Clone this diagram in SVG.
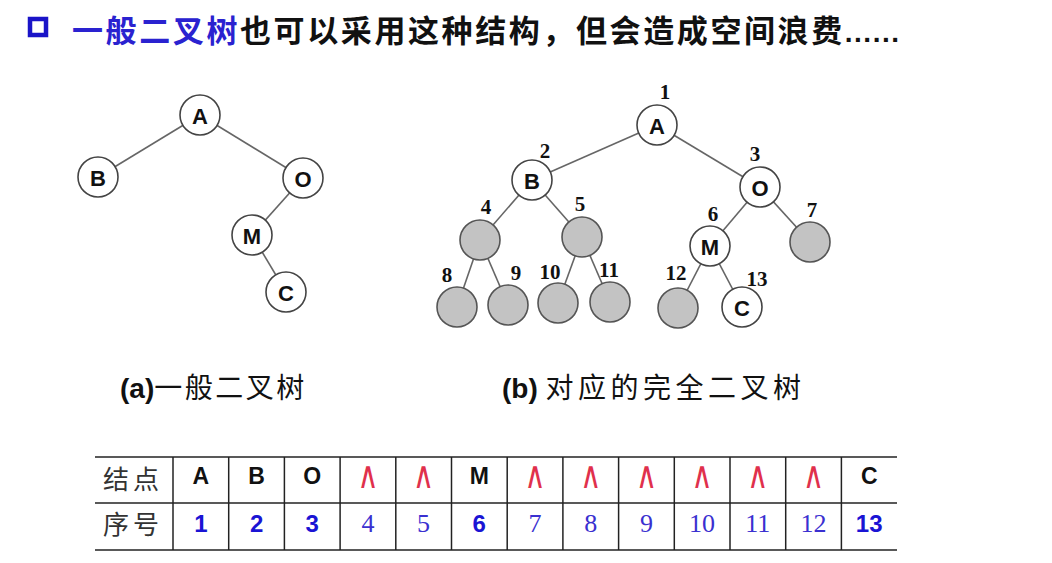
<svg xmlns="http://www.w3.org/2000/svg" width="1052" height="563" viewBox="0 0 1052 563">
<style>
.edge{stroke:#666;stroke-width:1.6;fill:none}
.nw{fill:#fff;stroke:#444;stroke-width:1.6}
.ng{fill:#c3c3c3;stroke:#555;stroke-width:1.6}
.lt{font-family:"Liberation Sans",Arial,sans-serif;font-weight:bold;font-size:22px;fill:#111;text-anchor:middle;dominant-baseline:central}
.num{font-family:"Liberation Serif","Times New Roman",serif;font-weight:bold;font-size:21px;fill:#111;text-anchor:middle;dominant-baseline:central}
.cap{font-family:"Liberation Sans","Noto Sans CJK SC",sans-serif;font-size:28px;fill:#111}
.cjk{font-family:"Noto Sans CJK SC",sans-serif}
.tl{stroke:#222;stroke-width:1.5}
.th{font-family:"Noto Sans CJK SC",sans-serif;font-size:26px;fill:#333;text-anchor:middle;dominant-baseline:central;letter-spacing:4px}
.tv{font-family:"Liberation Sans",Arial,sans-serif;font-weight:bold;font-size:23px;fill:#111;text-anchor:middle}
.tb{font-family:"Liberation Sans",Arial,sans-serif;font-weight:bold;font-size:24px;fill:#1a14d4;text-anchor:middle}
.ts{font-family:"Liberation Serif","Times New Roman",serif;font-size:26px;fill:#3a30d0;text-anchor:middle}
.nul{font-family:"DejaVu Sans",sans-serif;font-size:25px;fill:#e0304c;text-anchor:middle}
</style>

<!-- title -->
<g id="title">
<rect x="30" y="19" width="16" height="16" fill="none" stroke="#1a14c8" stroke-width="4.5"/>
<text x="72" y="42" font-family="Noto Sans CJK SC, sans-serif" font-size="31" font-weight="bold" letter-spacing="2.6"><tspan fill="#2a22d0">一般二叉树</tspan><tspan fill="#111">也可以采用这种结构，但会造成空间浪费</tspan><tspan fill="#111" font-family="Liberation Sans, sans-serif" font-size="28" letter-spacing="1.5">......</tspan></text>
</g>

<!-- connectors -->
<g id="connectors">
<line class="edge" x1="200" y1="115" x2="98" y2="177"/>
<line class="edge" x1="200" y1="115" x2="303" y2="178"/>
<line class="edge" x1="303" y1="178" x2="252" y2="235"/>
<line class="edge" x1="252" y1="235" x2="286" y2="292"/>

<line class="edge" x1="657" y1="125" x2="532" y2="180"/>
<line class="edge" x1="657" y1="125" x2="760" y2="187"/>
<line class="edge" x1="532" y1="180" x2="480" y2="240"/>
<line class="edge" x1="532" y1="180" x2="582" y2="237"/>
<line class="edge" x1="760" y1="187" x2="710" y2="246"/>
<line class="edge" x1="760" y1="187" x2="810" y2="242"/>
<line class="edge" x1="480" y1="240" x2="457" y2="307"/>
<line class="edge" x1="480" y1="240" x2="508" y2="305"/>
<line class="edge" x1="582" y1="237" x2="558" y2="303"/>
<line class="edge" x1="582" y1="237" x2="610" y2="302"/>
<line class="edge" x1="710" y1="246" x2="678" y2="308"/>
<line class="edge" x1="710" y1="246" x2="742" y2="307"/>
</g>

<!-- tree (a) -->
<g id="a-A"><circle class="nw" cx="200" cy="115" r="20"/><text class="lt" x="200" y="116">A</text></g>
<g id="a-B"><circle class="nw" cx="98" cy="177" r="20"/><text class="lt" x="98" y="178">B</text></g>
<g id="a-O"><circle class="nw" cx="303" cy="178" r="20"/><text class="lt" x="303" y="179">O</text></g>
<g id="a-M"><circle class="nw" cx="252" cy="235" r="20"/><text class="lt" x="252" y="236">M</text></g>
<g id="a-C"><circle class="nw" cx="286" cy="292" r="20"/><text class="lt" x="286" y="293">C</text></g>

<!-- tree (b) -->
<g id="b-1"><circle class="nw" cx="657" cy="125" r="20"/><text class="lt" x="657" y="126">A</text><text class="num" x="665" y="92">1</text></g>
<g id="b-2"><circle class="nw" cx="532" cy="180" r="20"/><text class="lt" x="532" y="181">B</text><text class="num" x="545" y="151">2</text></g>
<g id="b-3"><circle class="nw" cx="760" cy="187" r="20"/><text class="lt" x="760" y="188">O</text><text class="num" x="755" y="154">3</text></g>
<g id="b-4"><circle class="ng" cx="480" cy="240" r="20"/><text class="num" x="486" y="207">4</text></g>
<g id="b-5"><circle class="ng" cx="582" cy="237" r="20"/><text class="num" x="580" y="204">5</text></g>
<g id="b-6"><circle class="nw" cx="710" cy="246" r="20"/><text class="lt" x="710" y="247">M</text><text class="num" x="713" y="214">6</text></g>
<g id="b-7"><circle class="ng" cx="810" cy="242" r="20"/><text class="num" x="812" y="210">7</text></g>
<g id="b-8"><circle class="ng" cx="457" cy="307" r="20"/><text class="num" x="447" y="275">8</text></g>
<g id="b-9"><circle class="ng" cx="508" cy="305" r="20"/><text class="num" x="516" y="273">9</text></g>
<g id="b-10"><circle class="ng" cx="558" cy="303" r="20"/><text class="num" x="550" y="272">10</text></g>
<g id="b-11"><circle class="ng" cx="610" cy="302" r="20"/><text class="num" x="609" y="270">11</text></g>
<g id="b-12"><circle class="ng" cx="678" cy="308" r="20"/><text class="num" x="676" y="273">12</text></g>
<g id="b-13"><circle class="nw" cx="742" cy="307" r="20"/><text class="lt" x="742" y="308">C</text><text class="num" x="757" y="279">13</text></g>

<!-- captions -->
<g id="captions">
<text class="cap" x="120" y="398"><tspan font-weight="bold">(a)</tspan><tspan class="cjk" letter-spacing="2.5">一般二叉树</tspan></text>
<text class="cap" x="502" y="398"><tspan font-weight="bold">(b) </tspan><tspan class="cjk" letter-spacing="4.5">对应的完全二叉树</tspan></text>
</g>

<!-- table -->
<g id="table">
<line class="tl" x1="95" y1="457" x2="897" y2="457"/>
<line class="tl" x1="95" y1="503" x2="897" y2="503" stroke-width="2"/>
<line class="tl" x1="95" y1="550" x2="897" y2="550"/>
<line class="tl" x1="173" y1="457" x2="173" y2="550"/>
<line class="tl" x1="228.7" y1="457" x2="228.7" y2="550"/>
<line class="tl" x1="284.4" y1="457" x2="284.4" y2="550"/>
<line class="tl" x1="340.1" y1="457" x2="340.1" y2="550"/>
<line class="tl" x1="395.8" y1="457" x2="395.8" y2="550"/>
<line class="tl" x1="451.5" y1="457" x2="451.5" y2="550"/>
<line class="tl" x1="507.2" y1="457" x2="507.2" y2="550"/>
<line class="tl" x1="562.9" y1="457" x2="562.9" y2="550"/>
<line class="tl" x1="618.6" y1="457" x2="618.6" y2="550"/>
<line class="tl" x1="674.3" y1="457" x2="674.3" y2="550"/>
<line class="tl" x1="730" y1="457" x2="730" y2="550"/>
<line class="tl" x1="785.7" y1="457" x2="785.7" y2="550"/>
<line class="tl" x1="841.4" y1="457" x2="841.4" y2="550"/>

<text class="th" x="133" y="477">结点</text>
<text class="th" x="133" y="522">序号</text>

<text class="tv" x="200.9" y="484">A</text>
<text class="tv" x="256.6" y="484">B</text>
<text class="tv" x="312.3" y="484">O</text>
<text class="nul" transform="translate(368,488) scale(1.15,1.5)">∧</text>
<text class="nul" transform="translate(423.6,488) scale(1.15,1.5)">∧</text>
<text class="tv" x="479.3" y="484">M</text>
<text class="nul" transform="translate(535,488) scale(1.15,1.5)">∧</text>
<text class="nul" transform="translate(590.7,488) scale(1.15,1.5)">∧</text>
<text class="nul" transform="translate(646.4,488) scale(1.15,1.5)">∧</text>
<text class="nul" transform="translate(702.1,488) scale(1.15,1.5)">∧</text>
<text class="nul" transform="translate(757.8,488) scale(1.15,1.5)">∧</text>
<text class="nul" transform="translate(813.5,488) scale(1.15,1.5)">∧</text>
<text class="tv" x="869.2" y="484">C</text>

<text class="tb" x="200.9" y="532">1</text>
<text class="tb" x="256.6" y="532">2</text>
<text class="tb" x="312.3" y="532">3</text>
<text class="ts" x="368" y="532">4</text>
<text class="ts" x="423.6" y="532">5</text>
<text class="tb" x="479.3" y="532">6</text>
<text class="ts" x="535" y="532">7</text>
<text class="ts" x="590.7" y="532">8</text>
<text class="ts" x="646.4" y="532">9</text>
<text class="ts" x="702.1" y="532">10</text>
<text class="ts" x="757.8" y="532">11</text>
<text class="ts" x="813.5" y="532">12</text>
<text class="tb" x="869.2" y="532">13</text>
</g>
</svg>
